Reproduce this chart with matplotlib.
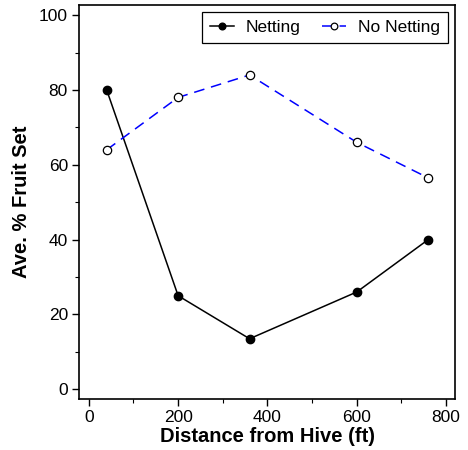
import matplotlib
matplotlib.use("Agg")
import matplotlib.pyplot as plt
from matplotlib.ticker import MultipleLocator

plt.rcParams['font.family'] = ['Liberation Sans', 'DejaVu Sans']

distance = [40, 200, 360, 600, 760]
netting = [80, 25, 13.5, 26, 40]
no_netting = [64, 78, 84, 66, 56.5]

fig = plt.figure(figsize=(4.68, 4.50), dpi=100)
ax = fig.add_axes([79 / 468, 51 / 450, 376 / 468, 394 / 450])

ax.plot(distance, netting, color='black', lw=1.1, marker='o', ms=6,
        mfc='black', mec='black', label='Netting')
ax.plot(distance, no_netting, color='#0000ff', lw=1.1, ls=(0, (7, 4.5)),
        marker='o', ms=6, mfc='white', mec='black', mew=0.9, label='No Netting')

ax.set_xlim(-22, 820)
ax.set_ylim(-2.6, 102.7)
ax.xaxis.set_major_locator(MultipleLocator(200))
ax.xaxis.set_minor_locator(MultipleLocator(100))
ax.yaxis.set_major_locator(MultipleLocator(20))
ax.yaxis.set_minor_locator(MultipleLocator(10))
ax.tick_params(which='major', direction='out', length=5, width=1, labelsize=12.5, pad=3)
ax.tick_params(which='minor', direction='out', length=3, width=0.8)
for s in ax.spines.values():
    s.set_linewidth(1.2)

ax.set_xlabel('Distance from Hive (ft)', fontsize=14.5, fontweight='bold', labelpad=1)
ax.set_ylabel('Ave. % Fruit Set', fontsize=14.5, fontweight='bold', labelpad=6)

leg = ax.legend(loc='upper right', ncol=2, fontsize=12.5, handlelength=1.4,
                columnspacing=1.2, handletextpad=0.7, fancybox=False,
                framealpha=1, borderaxespad=0.4, borderpad=0.45, markerscale=0.8)
leg.get_frame().set_edgecolor('black')
leg.get_frame().set_linewidth(0.9)

fig.savefig('out.png', dpi=100)
